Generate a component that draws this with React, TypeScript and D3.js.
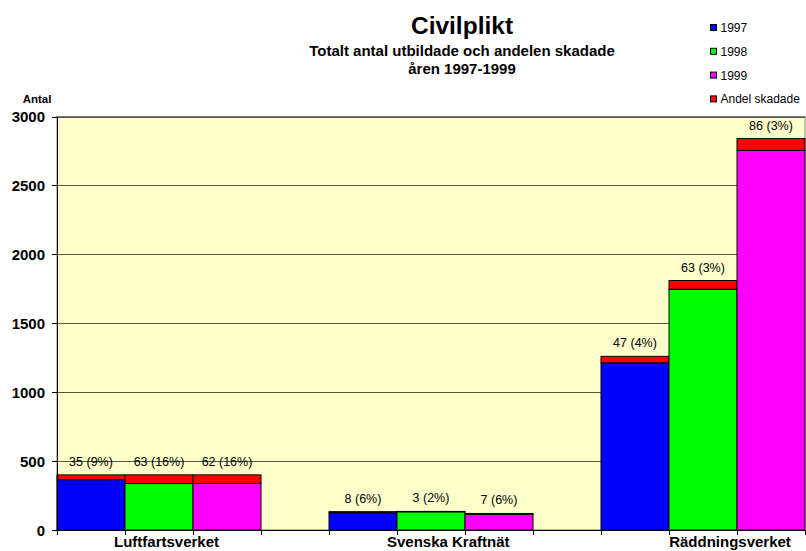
import React from 'react';
import * as d3 from 'd3';

const categories = ['Luftfartsverket', 'Svenska Kraftnät', 'Räddningsverket'];
const years = ['1997', '1998', '1999'];
// totalt antal utbildade per år (index = year)
const totals1997 = [400, 133, 1260];
const totals1998 = [400, 135, 1810];
const totals1999 = [400, 120, 2840];
// antal skadade
const injured1997 = [35, 8, 47];
const injured1998 = [63, 3, 63];
const injured1999 = [62, 7, 86];
const labels1997 = ['35 (9%)', '8 (6%)', '47 (4%)'];
const labels1998 = ['63 (16%)', '3 (2%)', '63 (3%)'];
const labels1999 = ['62 (16%)', '7 (6%)', '86 (3%)'];
const yTicks = [0, 500, 1000, 1500, 2000, 2500, 3000];

const yearColors = ['#0000FF', '#00FF00', '#FF00FF'];
const injuredColor = '#FF0000';
const legendItems = ['1997', '1998', '1999', 'Andel skadade'];
const legendColors = [...yearColors, injuredColor];

const font = 'Arial, "Liberation Sans", sans-serif';

const App: React.FC = () => {
  const width = 806;
  const height = 551;
  const left = 57;
  const right = 805;
  const top = 116.5;
  const bottom = 530;

  const x = d3.scaleBand<string>().domain(categories).range([left, right]).paddingInner(0.25).paddingOuter(0);
  const xi = d3.scaleBand<string>().domain(years).range([0, x.bandwidth()]).padding(0);
  const y = d3.scaleLinear().domain([0, 3000]).range([bottom, top]);
  // category labels sit a little right of the band centres, as in the original
  const xLabel = d3.scalePoint<string>().domain(categories).range([166.5, 730]);

  const totals = [totals1997, totals1998, totals1999];
  const injured = [injured1997, injured1998, injured1999];
  const labels = [labels1997, labels1998, labels1999];

  return (
    <svg width={width} height={height} style={{ position: 'absolute', left: 0, top: 0 }} fontFamily={font}>
      <rect x={0} y={0} width={width} height={height} fill="#fff" />
      {/* plot area */}
      <rect x={left} y={top} width={right - left} height={bottom - top} fill="#FFFFCC" stroke="#808080" strokeWidth={1} />
      {yTicks.filter(t => t > 0).map(t => (
        <line key={t} x1={left} x2={right} y1={Math.round(y(t)) + 0.5} y2={Math.round(y(t)) + 0.5} stroke="#55553f" strokeWidth={1} />
      ))}

      {/* bars */}
      {categories.map((c, ci) =>
        years.map((yr, yi) => {
          const bx = (x(c) ?? 0) + (xi(yr) ?? 0);
          const w = xi.bandwidth();
          const tot = totals[yi][ci];
          const inj = injured[yi][ci];
          const base = tot - inj;
          return (
            <g key={c + yr}>
              <rect x={bx} y={y(base)} width={w} height={y(0) - y(base)} fill={yearColors[yi]} stroke="#000" strokeWidth={1} />
              <rect x={bx} y={y(tot)} width={w} height={y(base) - y(tot)} fill={injuredColor} stroke="#000" strokeWidth={1} />
              <text x={bx + w / 2} y={y(tot) - 9} textAnchor="middle" fontSize={12.5} fill="#000">{labels[yi][ci]}</text>
            </g>
          );
        })
      )}

      {/* y axis */}
      <line x1={left + 0.5} x2={left + 0.5} y1={top} y2={bottom} stroke="#000" />
      {yTicks.map(t => (
        <g key={t}>
          <line x1={left - 5} x2={left} y1={Math.round(y(t)) + 0.5} y2={Math.round(y(t)) + 0.5} stroke="#000" />
          <text x={45} y={y(t) + 5.5} textAnchor="end" fontSize={15} fontWeight="bold">{t}</text>
        </g>
      ))}
      <text x={37} y={103} textAnchor="middle" fontSize={11.5} fontWeight="bold">Antal</text>

      {/* x axis */}
      <line x1={left} x2={right} y1={bottom + 0.5} y2={bottom + 0.5} stroke="#000" />
      {categories.map(c =>
        [0, 1, 2, 3].map(k => {
          const tx = Math.round((x(c) ?? 0) + k * xi.bandwidth()) + 0.5;
          return <line key={c + k} x1={tx} x2={tx} y1={bottom} y2={bottom + 5} stroke="#000" />;
        })
      )}
      {categories.map(c => (
        <text key={c} x={xLabel(c)} y={547} textAnchor="middle" fontSize={15} fontWeight="bold">{c}</text>
      ))}

      {/* titles */}
      <text x={462} y={34} textAnchor="middle" fontSize={24.5} fontWeight="bold">Civilplikt</text>
      <text x={462} y={56} textAnchor="middle" fontSize={15} fontWeight="bold">Totalt antal utbildade och andelen skadade</text>
      <text x={462} y={74} textAnchor="middle" fontSize={15} fontWeight="bold">åren 1997-1999</text>

      {/* legend */}
      {legendItems.map((item, i) => (
        <g key={item} transform={`translate(710.5, ${24.5 + i * 23.8})`}>
          <rect x={0} y={0} width={6} height={6} fill={legendColors[i]} stroke="#000" strokeWidth={1} />
          <text x={10} y={7.5} fontSize={12}>{item}</text>
        </g>
      ))}
    </svg>
  );
};

export default App;
